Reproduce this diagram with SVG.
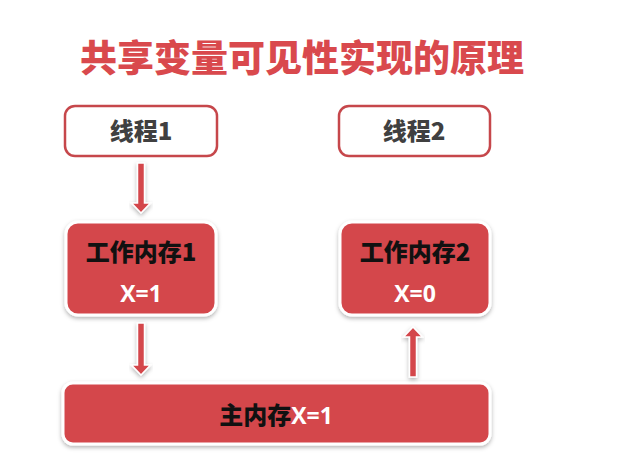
<svg xmlns="http://www.w3.org/2000/svg" width="631" height="453" viewBox="0 0 631 453">
<defs>
<filter id="sh" x="-10%" y="-10%" width="120%" height="130%">
<feDropShadow dx="0" dy="2" stdDeviation="2" flood-color="#000" flood-opacity="0.3"/>
</filter>
<style>
.cjk{font-family:"Noto Sans CJK SC","Liberation Sans",sans-serif;font-weight:900;}
.title{font-size:37px;fill:#d9494d;}
.thread{fill:#fff;stroke:#c6474b;stroke-width:2.5;}
.thtxt{font-size:24px;fill:#404040;}
.mem{fill:#d4474c;stroke:#fff;stroke-width:3;filter:url(#sh);}
.blk{font-size:24px;fill:#111;}
.wht{font-size:23px;fill:#fff;font-family:"Open Sans","Liberation Sans",sans-serif;font-weight:bold;}
.arr{fill:#d4474c;stroke:#fff;stroke-width:1.5;filter:url(#sh);}
</style>
</defs>
<rect width="631" height="453" fill="#fff"/>
<text class="cjk title" x="302" y="72" text-anchor="middle">共享变量可见性实现的原理</text>
<g id="thread1">
<rect class="thread" x="65" y="106" width="152" height="50" rx="10"/>
<text class="cjk thtxt" x="141" y="140" text-anchor="middle">线程1</text>
</g>
<g id="thread2">
<rect class="thread" x="339" y="106" width="151" height="50" rx="10"/>
<text class="cjk thtxt" x="414" y="140" text-anchor="middle">线程2</text>
</g>
<g id="work1">
<rect class="mem" x="66" y="222" width="150" height="93" rx="12"/>
<text class="cjk blk" x="141" y="261" text-anchor="middle">工作内存1</text>
<text class="wht" x="141" y="302" text-anchor="middle">X=1</text>
</g>
<g id="work2">
<rect class="mem" x="340" y="222" width="150" height="93" rx="12"/>
<text class="cjk blk" x="415" y="261" text-anchor="middle">工作内存2</text>
<text class="wht" x="415" y="302" text-anchor="middle">X=0</text>
</g>
<g id="main">
<rect class="mem" x="63" y="383" width="427" height="61" rx="10"/>
<text x="276" y="424" text-anchor="middle"><tspan class="cjk blk">主内存</tspan><tspan class="wht">X=1</tspan></text>
</g>
<g id="connectors">
<path class="arr" d="M137.5,163 h7 v40 h6 l-9.5,10 l-9.5,-10 h6 z"/>
<path class="arr" d="M137.5,323 h7 v42 h6 l-9.5,10 l-9.5,-10 h6 z"/>
<path class="arr" d="M409.5,377 h7 v-40 h6 l-9.5,-10 l-9.5,10 h6 z"/>
</g>
</svg>
